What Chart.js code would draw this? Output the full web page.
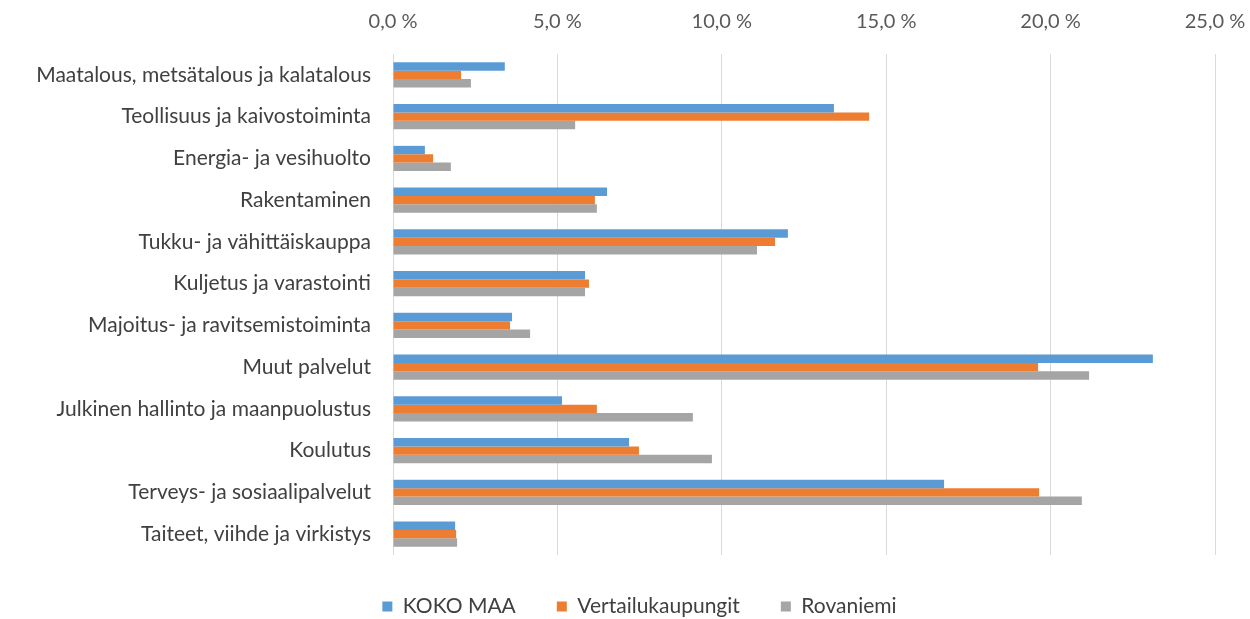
<!DOCTYPE html>
<html>
<head>
<meta charset="utf-8">
<script src="https://cdn.jsdelivr.net/npm/chart.js@4"></script>
<style>
  html, body { margin: 0; padding: 0; background: #fff; }
  #wrap { width: 1250px; height: 619px; position: relative; }
</style>
</head>
<body>
<div id="wrap"><canvas id="chart"></canvas></div>
<script>
const categories = [
  "Maatalous, metsätalous ja kalatalous",
  "Teollisuus ja kaivostoiminta",
  "Energia- ja vesihuolto",
  "Rakentaminen",
  "Tukku- ja vähittäiskauppa",
  "Kuljetus ja varastointi",
  "Majoitus- ja ravitsemistoiminta",
  "Muut palvelut",
  "Julkinen hallinto ja maanpuolustus",
  "Koulutus",
  "Terveys- ja sosiaalipalvelut",
  "Taiteet, viihde ja virkistys"
];

const kokoMaa = [3.4, 13.41, 0.97, 6.51, 12.01, 5.84, 3.62, 23.11, 5.14, 7.18, 16.76, 1.89];
const vertailukaupungit = [2.07, 14.48, 1.22, 6.14, 11.62, 5.96, 3.56, 19.62, 6.2, 7.48, 19.65, 1.92];
const rovaniemi = [2.37, 5.54, 1.76, 6.2, 11.07, 5.84, 4.17, 21.17, 9.12, 9.7, 20.95, 1.95];

const xTicks = [0, 5, 10, 15, 20, 25];

const FONT = "Lato, 'Liberation Sans', Arial, sans-serif";

function pct(v) {
  return v.toFixed(1).replace(".", ",") + " %";
}

const datasets = [
  { label: "KOKO MAA", data: kokoMaa, backgroundColor: "#5B9BD5" },
  { label: "Vertailukaupungit", data: vertailukaupungit, backgroundColor: "#ED7D31" },
  { label: "Rovaniemi", data: rovaniemi, backgroundColor: "#A5A5A5" }
].map(d => Object.assign(d, { barPercentage: 1, categoryPercentage: 0.6 }));

// legend sits a bit right of the canvas centre in the original
const shiftLegend = {
  id: "shiftLegend",
  afterLayout(chart) {
    chart.legend.left += 32;
    chart.legend.right += 32;
  }
};

new Chart(document.getElementById("chart"), {
  type: "bar",
  data: { labels: categories, datasets },
  plugins: [shiftLegend],
  options: {
    indexAxis: "y",
    responsive: true,
    maintainAspectRatio: false,
    animation: false,
    layout: { padding: { left: 0, right: 35, top: 0, bottom: -8 } },
    plugins: {
      tooltip: { enabled: false },
      legend: {
        position: "bottom",
        labels: {
          boxWidth: 10,
          boxHeight: 10,
          padding: 41,
          color: "#404040",
          font: { family: FONT, size: 21 }
        }
      }
    },
    scales: {
      x: {
        position: "top",
        min: 0,
        max: 25,
        afterBuildTicks(scale) {
          scale.ticks = xTicks.map(v => ({ value: v }));
        },
        afterFit(scale) {
          scale.height = 54;
          scale.paddingLeft = 0;
          scale.paddingRight = 0;
        },
        grid: { color: "#D9D9D9", drawTicks: false },
        border: { display: false },
        ticks: {
          color: "#595959",
          padding: 20,
          font: { family: FONT, size: 20 },
          callback: v => pct(v)
        }
      },
      y: {
        afterFit(scale) { scale.width = 393; },
        grid: { display: false },
        border: { display: false },
        ticks: {
          color: "#404040",
          padding: 14,
          font: { family: FONT, size: 21 }
        }
      }
    }
  }
});
</script>
</body>
</html>
